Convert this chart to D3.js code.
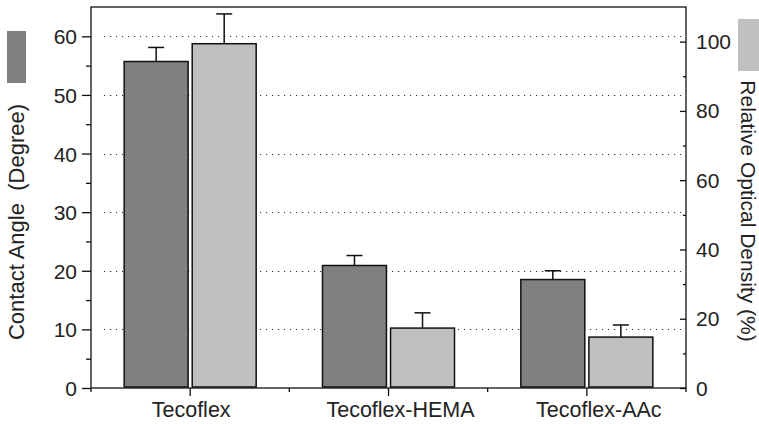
<!DOCTYPE html>
<html lang="en">
<head>
    <meta charset="UTF-8">
    <title>Contact Angle and Relative Optical Density</title>
    <script src="https://d3js.org/d3.v7.min.js"></script>
    <style>
        body {
            margin: 0;
            background: #fff;
        }
        svg text {
            font-family: "Liberation Sans", Arial, sans-serif;
            fill: #222;
        }
    </style>
</head>
<body>
    <div id="chart"></div>

    <script>
        // Data
        const categories = ['Tecoflex', 'Tecoflex-HEMA', 'Tecoflex-AAc'];
        const contactAngle = [55.7, 20.9, 18.5];
        const contactAngleErr = [2.4, 1.7, 1.5];
        const opticalDensity = [99.4, 17.3, 14.7];
        const opticalDensityErr = [8.6, 4.4, 3.5];
        const leftTicks = [0, 10, 20, 30, 40, 50, 60];
        const rightTicks = [0, 20, 40, 60, 80, 100];

        const width = 759, height = 424;
        const margin = { top: 7, right: 73, bottom: 36, left: 91 };
        const x0 = margin.left, x1 = width - margin.right;
        const yTop = margin.top, yBottom = height - margin.bottom;

        const svg = d3.select('#chart')
            .append('svg')
            .attr('width', width)
            .attr('height', height);

        const x = d3.scaleBand()
            .domain(categories)
            .range([x0, x1])
            .padding(0);

        // two bars per group, centred on the group
        const xSub = d3.scaleBand()
            .domain(['angle', 'density'])
            .range([-66, 66])
            .paddingInner(0.06);

        const yLeft = d3.scaleLinear().domain([0, 65]).range([yBottom, yTop]);
        const yRight = d3.scaleLinear().domain([0, 110]).range([yBottom, yTop]);

        const darkFill = '#808080', lightFill = '#c0c0c0';

        // dotted grid lines at the left axis ticks
        svg.append('g')
            .selectAll('line')
            .data(leftTicks.filter(d => d > 0))
            .join('line')
            .attr('x1', x0 + 13)
            .attr('x2', x1 - 3)
            .attr('y1', d => Math.round(yLeft(d)) + 0.5)
            .attr('y2', d => Math.round(yLeft(d)) + 0.5)
            .attr('stroke', '#333')
            .attr('stroke-width', 1)
            .attr('stroke-dasharray', '1.2,4.8');

        // bars
        const rows = categories.map((c, i) => [
            { cat: c, key: 'angle', y: yLeft, v: contactAngle[i], e: contactAngleErr[i], fill: darkFill },
            { cat: c, key: 'density', y: yRight, v: opticalDensity[i], e: opticalDensityErr[i], fill: lightFill }
        ]).flat();

        const barX = d => x(d.cat) + x.bandwidth() / 2 + xSub(d.key);

        // error bars (upper half only)
        const err = svg.append('g')
            .attr('stroke', '#111')
            .attr('stroke-width', 1.5);

        err.selectAll('.stem')
            .data(rows)
            .join('line')
            .attr('x1', d => barX(d) + xSub.bandwidth() / 2)
            .attr('x2', d => barX(d) + xSub.bandwidth() / 2)
            .attr('y1', d => d.y(d.v))
            .attr('y2', d => d.y(d.v + d.e));

        err.selectAll('.cap')
            .data(rows)
            .join('line')
            .attr('x1', d => barX(d) + xSub.bandwidth() / 2 - 8)
            .attr('x2', d => barX(d) + xSub.bandwidth() / 2 + 8)
            .attr('y1', d => d.y(d.v + d.e))
            .attr('y2', d => d.y(d.v + d.e));

        svg.append('g')
            .selectAll('rect')
            .data(rows)
            .join('rect')
            .attr('x', d => barX(d))
            .attr('y', d => d.y(d.v))
            .attr('width', xSub.bandwidth())
            .attr('height', d => yBottom - d.y(d.v) - 1)
            .attr('fill', d => d.fill)
            .attr('stroke', '#111')
            .attr('stroke-width', 1.5);

        // frame
        svg.append('rect')
            .attr('x', x0)
            .attr('y', yTop)
            .attr('width', x1 - x0)
            .attr('height', yBottom - yTop)
            .attr('fill', 'none')
            .attr('stroke', '#111')
            .attr('stroke-width', 1.3);

        // left axis, ticks outward
        const leftAxis = svg.append('g')
            .attr('transform', `translate(${x0},0)`)
            .call(d3.axisLeft(yLeft).tickValues(leftTicks).tickSize(9).tickPadding(5));
        leftAxis.select('.domain').remove();
        leftAxis.selectAll('.tick line').attr('stroke', '#111').attr('stroke-width', 1.3);
        leftAxis.selectAll('text').style('font-size', '21px').attr('dy', '0.36em');

        svg.append('g')
            .attr('transform', `translate(${x0},0)`)
            .call(d3.axisLeft(yLeft).tickValues(d3.range(5, 65, 10)).tickSize(5).tickFormat(''))
            .call(g => g.select('.domain').remove())
            .selectAll('.tick line').attr('stroke', '#111').attr('stroke-width', 1.3);

        // right axis, ticks inward, labels outside
        const rightAxis = svg.append('g')
            .attr('transform', `translate(${x1},0)`)
            .call(d3.axisLeft(yRight).tickValues(rightTicks).tickSize(6).tickFormat(''));
        rightAxis.select('.domain').remove();
        rightAxis.selectAll('.tick line').attr('stroke', '#111').attr('stroke-width', 1.3);

        svg.append('g')
            .attr('transform', `translate(${x1},0)`)
            .call(d3.axisLeft(yRight).tickValues(d3.range(10, 110, 20)).tickSize(3).tickFormat(''))
            .call(g => g.select('.domain').remove())
            .selectAll('.tick line').attr('stroke', '#111').attr('stroke-width', 1.3);

        svg.append('g')
            .selectAll('text')
            .data(rightTicks)
            .join('text')
            .attr('x', x1 + 10)
            .attr('y', d => yRight(d))
            .attr('dy', '0.36em')
            .style('font-size', '21px')
            .text(d => d);

        // bottom axis: major ticks at group centres, minor at group edges
        const bottomAxis = svg.append('g')
            .attr('transform', `translate(0,${yBottom})`)
            .call(d3.axisBottom(x).tickSize(8).tickPadding(6));
        bottomAxis.select('.domain').remove();
        bottomAxis.selectAll('.tick line').attr('stroke', '#111').attr('stroke-width', 1.3);
        // the original labels sit a little right of their ticks
        bottomAxis.selectAll('text')
            .style('font-size', '21.5px')
            .attr('dx', (d, i) => i === 0 ? 1 : 12);

        svg.append('g')
            .selectAll('line')
            .data(categories.map(c => x(c)).concat([x1]))
            .join('line')
            .attr('x1', d => d)
            .attr('x2', d => d)
            .attr('y1', yBottom)
            .attr('y2', yBottom + 4)
            .attr('stroke', '#111')
            .attr('stroke-width', 1.3);

        // legend swatches
        svg.append('rect')
            .attr('x', 7).attr('y', 31)
            .attr('width', 19).attr('height', 52)
            .attr('fill', darkFill);

        svg.append('rect')
            .attr('x', 738).attr('y', 19)
            .attr('width', 21).attr('height', 52)
            .attr('fill', lightFill);

        // axis titles
        svg.append('text')
            .attr('transform', `translate(24,222) rotate(-90)`)
            .attr('text-anchor', 'middle')
            .style('font-size', '22px')
            .style('white-space', 'pre')
            .text('Contact Angle  (Degree)');

        svg.append('text')
            .attr('transform', `translate(741,211) rotate(90)`)
            .attr('text-anchor', 'middle')
            .style('font-size', '21px')
            .text('Relative Optical Density (%)');
    </script>
</body>
</html>
